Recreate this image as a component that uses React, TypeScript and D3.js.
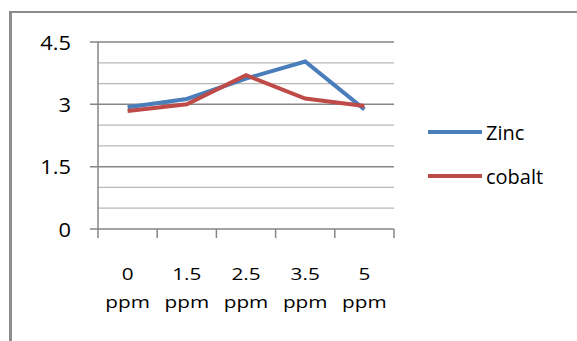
import * as d3 from "d3";

const categories = ["0 ppm", "1.5 ppm", "2.5 ppm", "3.5 ppm", "5 ppm"];
const zinc = [2.93, 3.13, 3.62, 4.03, 2.88];
const cobalt = [2.84, 3.0, 3.7, 3.14, 2.96];
const yTicks = [0, 1.5, 3, 4.5];
const seriesNames = ["Zinc", "cobalt"];
const seriesColors = ["#4a7ebb", "#be4b48"];

const WIDTH = 577;
const HEIGHT = 341;
const PLOT = { left: 98, right: 394, top: 42, bottom: 229 };
const FONT = "'Open Sans', 'Liberation Sans', sans-serif";

export default function App() {
  const x = d3
    .scaleBand<string>()
    .domain(categories)
    .range([PLOT.left, PLOT.right]);
  const y = d3.scaleLinear().domain([0, 4.5]).range([PLOT.bottom, PLOT.top]);

  const minorTicks = d3.range(0.5, 4.5, 0.5).filter((v) => !yTicks.includes(v));

  const line = d3
    .line<number>()
    .x((_, i) => (x(categories[i]) ?? 0) + x.bandwidth() / 2)
    .y((d) => y(d));

  const series = [zinc, cobalt];

  return (
    <svg
      width={WIDTH}
      height={HEIGHT}
      style={{ position: "absolute", left: 0, top: 0, background: "white" }}
    >
      {/* chart frame */}
      <line x1={10.5} y1={12} x2={WIDTH} y2={12} stroke="#8c8c8c" strokeWidth={2} />
      <line x1={10.5} y1={11} x2={10.5} y2={HEIGHT} stroke="#8c8c8c" strokeWidth={3} />

      {/* gridlines */}
      {minorTicks.map((t) => (
        <line
          key={"m" + t}
          x1={PLOT.left}
          x2={PLOT.right}
          y1={y(t)}
          y2={y(t)}
          stroke="#b8b8b8"
          strokeWidth={1.3}
        />
      ))}
      {yTicks.map((t) => (
        <g key={"t" + t}>
          <line
            x1={PLOT.left - 8}
            x2={PLOT.right}
            y1={y(t)}
            y2={y(t)}
            stroke="#868686"
            strokeWidth={1.5}
          />
          <text
            transform={`translate(71, ${y(t)}) scale(1.12, 1)`}
            textAnchor="end"
            dominantBaseline="central"
            fontFamily={FONT}
            fontSize={19.5}
            fill="#000"
          >
            {t}
          </text>
        </g>
      ))}

      {/* axes */}
      <line
        x1={PLOT.left}
        x2={PLOT.left}
        y1={PLOT.top}
        y2={PLOT.bottom}
        stroke="#868686"
        strokeWidth={1.5}
      />
      {[...categories.map((c) => x(c) ?? 0), PLOT.right].map((tx, i) => (
        <line
          key={"xt" + i}
          x1={tx}
          x2={tx}
          y1={PLOT.bottom}
          y2={PLOT.bottom + 9}
          stroke="#868686"
          strokeWidth={1.5}
        />
      ))}
      {categories.map((c) => {
        const [num, unit] = c.split(" ");
        const cx = (x(c) ?? 0) + x.bandwidth() / 2;
        return (
          <g key={c} transform={`translate(${cx}, 0) scale(1.22, 1)`}>
            <text
              textAnchor="middle"
              fontFamily={FONT}
              fontSize={17}
              fill="#000"
            >
              <tspan x={0} y={280}>
                {num}
              </tspan>
              <tspan x={0} y={308}>
                {unit}
              </tspan>
            </text>
          </g>
        );
      })}

      {/* series */}
      {series.map((s, i) => (
        <path
          key={seriesNames[i]}
          d={line(s) ?? ""}
          fill="none"
          stroke={seriesColors[i]}
          strokeWidth={4}
          strokeLinejoin="miter"
        />
      ))}

      {/* legend */}
      {seriesNames.map((n, i) => {
        const ly = 132 + i * 44;
        return (
          <g key={n}>
            <line x1={428} x2={482} y1={ly} y2={ly} stroke={seriesColors[i]} strokeWidth={4} />
            <text
              x={486}
              y={ly}
              dominantBaseline="central"
              fontFamily={FONT}
              fontSize={20}
              fill="#000"
            >
              {n}
            </text>
          </g>
        );
      })}
    </svg>
  );
}
